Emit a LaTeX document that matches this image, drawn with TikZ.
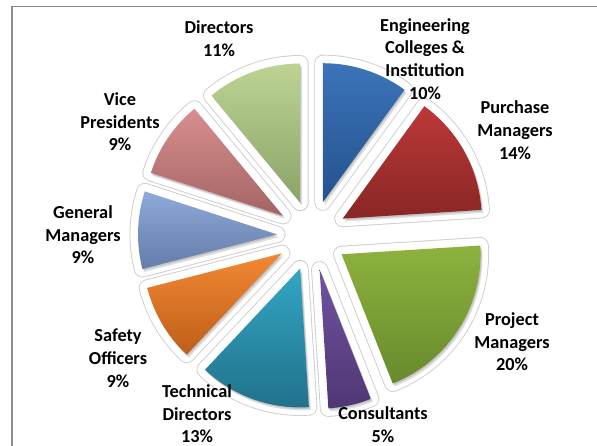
\documentclass[tikz,border=0pt]{standalone}
\usepackage{fontspec}
\setmainfont{Carlito}
\usetikzlibrary{arrows,shapes}
\definecolor{engT}{RGB}{60,115,185}
\definecolor{engB}{RGB}{36,82,142}
\definecolor{purT}{RGB}{188,56,56}
\definecolor{purB}{RGB}{138,38,38}
\definecolor{proT}{RGB}{141,178,62}
\definecolor{proB}{RGB}{104,138,44}
\definecolor{conT}{RGB}{112,82,162}
\definecolor{conB}{RGB}{80,55,115}
\definecolor{tecT}{RGB}{50,166,196}
\definecolor{tecB}{RGB}{34,113,138}
\definecolor{safT}{RGB}{242,136,50}
\definecolor{safB}{RGB}{190,94,26}
\definecolor{genT}{RGB}{142,170,216}
\definecolor{genB}{RGB}{100,124,170}
\definecolor{vicT}{RGB}{216,142,142}
\definecolor{vicB}{RGB}{164,100,100}
\definecolor{dirT}{RGB}{188,211,146}
\definecolor{dirB}{RGB}{138,164,104}
\tikzstyle{halo}=[draw=black!20,line width=17pt,line join=round]
\tikzstyle{haloin}=[draw=white,line width=15.2pt,line join=round]
\tikzstyle{shadow}=[fill=black,opacity=0.12]
\tikzstyle{lbl}=[align=center,inner sep=0pt,font=\bfseries\fontsize{18.3}{22.7}\selectfont]

\begin{document}
\begin{tikzpicture}[x=1pt,y=1pt]
    \useasboundingbox (0,0) rectangle (597,446);
    % Frame of the chart area
    \draw[black!45,line width=1.5pt] (12,0) -- (12,439.5) -- (597,439.5);
    \coordinate (C) at (312,210.5);

    % First the white halos round the slices
    \foreach \s/\e [evaluate=\s as \m using (\s+\e)/2] in {90/54, 54/3.6, 3.6/-68.4, -68.4/-86.4, -86.4/-133.2, -133.2/-165.6, -165.6/-198, -198/-230.4, -230.4/-270}
        \path[halo] ([shift={(\m:35)}]C) -- +(\s:139) arc[start angle=\s,end angle=\e,radius=139] -- cycle;
    \foreach \s/\e [evaluate=\s as \m using (\s+\e)/2] in {90/54, 54/3.6, 3.6/-68.4, -68.4/-86.4, -86.4/-133.2, -133.2/-165.6, -165.6/-198, -198/-230.4, -230.4/-270}
        \path[haloin] ([shift={(\m:35)}]C) -- +(\s:139) arc[start angle=\s,end angle=\e,radius=139] -- cycle;

    % Soft shadows
    \foreach \s/\e [evaluate=\s as \m using (\s+\e)/2] in {90/54, 54/3.6, 3.6/-68.4, -68.4/-86.4, -86.4/-133.2, -133.2/-165.6, -165.6/-198, -198/-230.4, -230.4/-270}
        \foreach \dx/\dy in {1/-1.5, 2/-3}
            \path[shadow] ([shift={(\m:35)},xshift=\dx,yshift=\dy]C) -- +(\s:139) arc[start angle=\s,end angle=\e,radius=139] -- cycle;

    % Then the slices themselves
    \foreach \s/\e/\ct/\cb [evaluate=\s as \m using (\s+\e)/2] in {90/54/engT/engB, 54/3.6/purT/purB, 3.6/-68.4/proT/proB, -68.4/-86.4/conT/conB, -86.4/-133.2/tecT/tecB, -133.2/-165.6/safT/safB, -165.6/-198/genT/genB, -198/-230.4/vicT/vicB, -230.4/-270/dirT/dirB}
        \shade[top color=\ct,bottom color=\cb] ([shift={(\m:35)}]C) -- +(\s:139) arc[start angle=\s,end angle=\e,radius=139] -- cycle;

    % Labels
    \node[lbl] (eng) at (425,387.1) {Engineering\\Colleges \&\\Institution\\10\%};
    \node[lbl] (pur) at (515,316) {Purchase\\Managers\\14\%};
    \node[lbl] (pro) at (512,104.3) {Project\\Managers\\20\%};
    \node[lbl] (con) at (383,21.3) {Consultants\\5\%};
    \node[lbl] (tec) at (197,32.1) {Technical\\Directors\\13\%};
    \node[lbl] (saf) at (118,87.8) {Safety\\Officers\\9\%};
    \node[lbl] (gen) at (83,211.2) {General\\Managers\\9\%};
    \node[lbl] (vic) at (120,324.2) {Vice\\Presidents\\9\%};
    \node[lbl] (dir) at (219,407.3) {Directors\\11\%};
\end{tikzpicture}
\end{document}
